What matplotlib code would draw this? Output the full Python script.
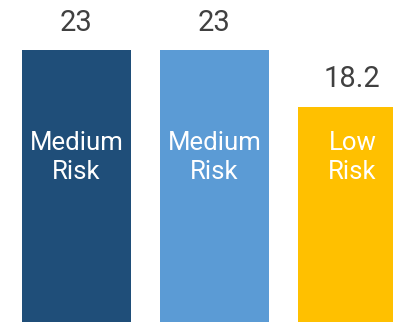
import matplotlib.pyplot as plt

plt.rcParams['font.family'] = ['Roboto', 'DejaVu Sans']

values = [23, 23, 18.2]
inner_labels = ["Medium\nRisk", "Medium\nRisk", "Low\nRisk"]
colors = ["#1F4E79", "#5B9BD5", "#FFC000"]

fig = plt.figure(figsize=(3.93, 3.22), dpi=100)
ax = fig.add_axes([0, 0, 1, 1])

x = range(len(values))
ax.bar(x, values, width=0.79, color=colors)

for i, v in enumerate(values):
    ax.text(i, v + 1.65, f"{v:g}", ha="center", va="baseline",
            fontsize=21, color="#404040")
    ax.text(i, 13.9, inner_labels[i], ha="center", va="center",
            fontsize=18.5, color="white", linespacing=1.3)

ax.set_xlim(-0.554, 2.294)
ax.set_ylim(0, 27.23)
ax.axis("off")

fig.savefig("out.png", dpi=100)
